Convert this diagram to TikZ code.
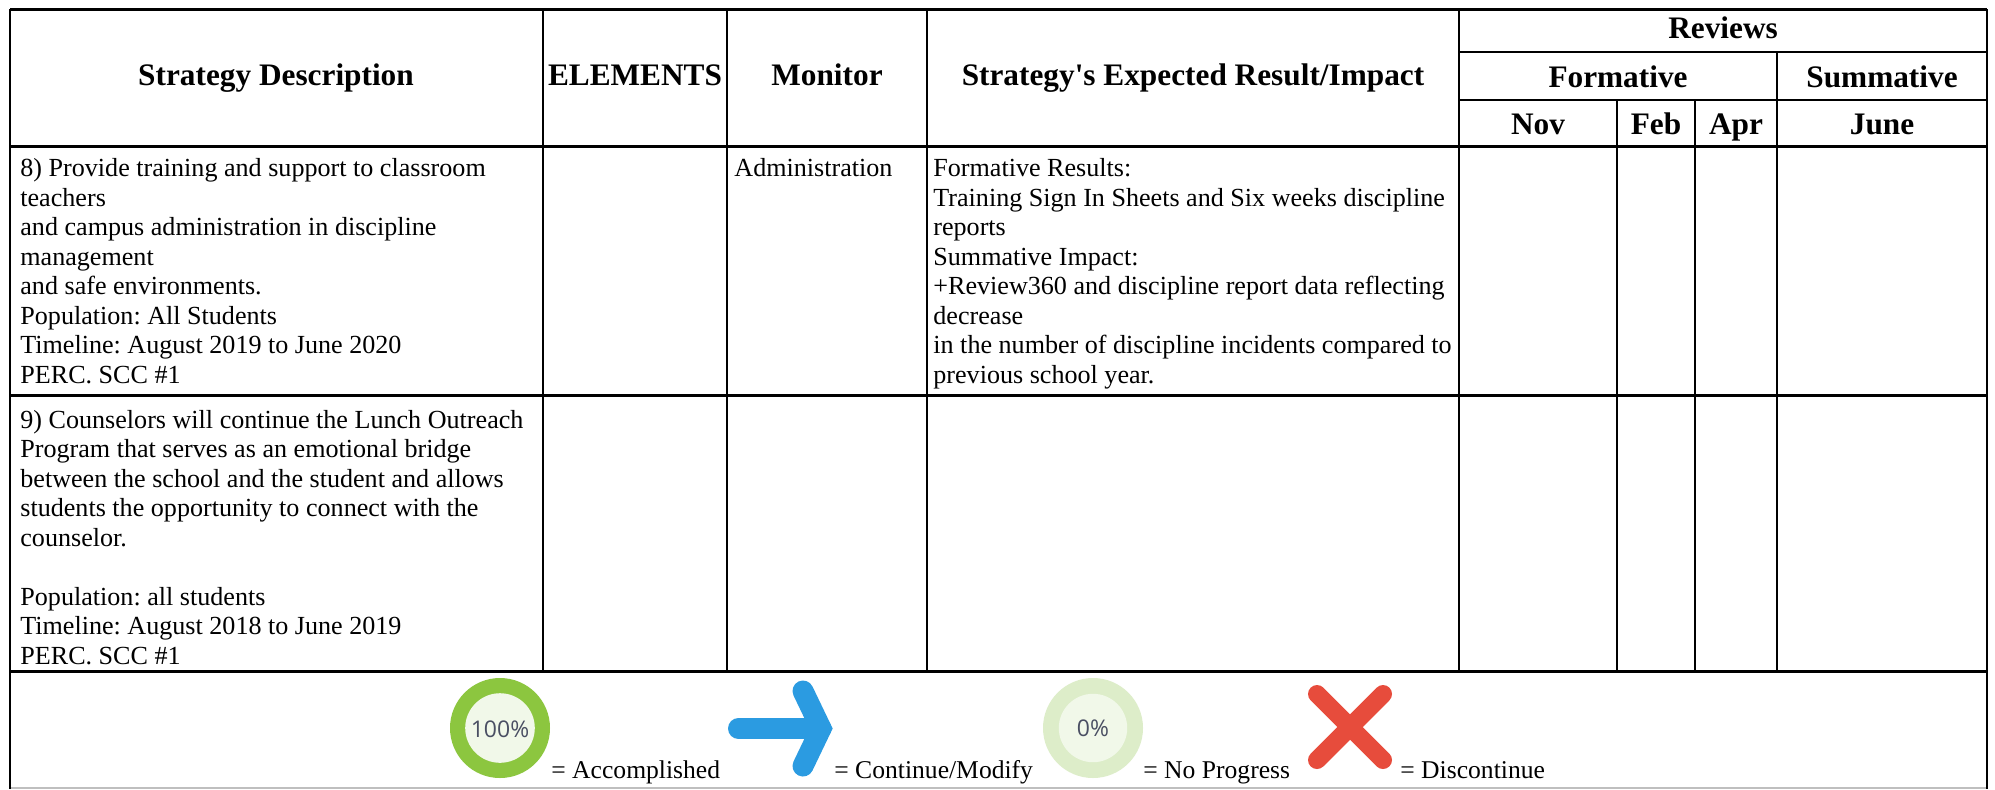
\documentclass[tikz,border=0pt]{standalone}
\usepackage{fontspec}
\setmainfont{Liberation Serif}
\newfontfamily\iconfont{Open Sans}
\definecolor{greenring}{RGB}{140,198,63}
\definecolor{paleinner}{RGB}{241,248,233}
\definecolor{palering}{RGB}{221,237,201}
\definecolor{arrowblue}{RGB}{43,155,225}
\definecolor{xred}{RGB}{231,76,60}
\definecolor{pcttext}{RGB}{74,79,99}
\frenchspacing
\newcommand{\celltext}[1]{\vtop{\hsize=300pt\parindent=0pt\leftskip=0pt\fontsize{13.05}{14.75}\selectfont\raggedright #1\par}}
\tikzset{
  hdr/.style={font=\fontsize{15.65}{18}\selectfont\bfseries, inner sep=0pt, anchor=base},
  body/.style={inner sep=0pt, anchor=base west},
  bodyline/.style={inner sep=0pt, anchor=base west, font=\fontsize{13.05}{14.75}\selectfont},
  legtext/.style={font=\fontsize{12.8}{15}\selectfont, inner sep=0pt, anchor=base west},
  gridline/.style={line width=1.1pt, black},
  rowline/.style={line width=1.5pt, black},
  pct/.style={font=\iconfont\fontsize{11.5}{13}\selectfont, text=pcttext, inner sep=0pt},
}
\begin{document}
\begin{tikzpicture}[x=0.5pt,y=-0.5pt]
\useasboundingbox (0,0) rectangle (1995,789);
\fill[white] (0,0) rectangle (1995,789);
% grid
\draw[rowline] (10,9) -- (1987,9);
\draw[gridline] (1459,52) -- (1987,52);
\draw[gridline] (1459,100) -- (1987,100);
\draw[rowline] (10,146) -- (1987,146);
\draw[rowline] (10,395) -- (1987,395);
\draw[rowline] (10,671) -- (1987,671);
\draw[line width=1pt, black!25] (10,787.5) -- (1987,787.5);
\draw[gridline] (10,9) -- (10,789);
\draw[gridline] (1987,9) -- (1987,789);
\foreach \cx in {543,727,927,1459} \draw[gridline] (\cx,9) -- (\cx,671);
\foreach \cx in {1617,1695} \draw[gridline] (\cx,100) -- (\cx,671);
\draw[gridline] (1777,52) -- (1777,671);
% headers
\node[hdr] (hdesc) at (276,85.5) {Strategy Description};
\node[hdr] (helem) at (635,85.5) {ELEMENTS};
\node[hdr] (hmon) at (827,85.5) {Monitor};
\node[hdr] (hres) at (1193,85.5) {Strategy\textquotesingle s Expected Result/Impact};
\node[hdr] (hrev) at (1723,38.5) {Reviews};
\node[hdr] (hform) at (1618,87) {Formative};
\node[hdr] (hsum) at (1882,87) {Summative};
\node[hdr] (hnov) at (1538,134) {Nov};
\node[hdr] (hfeb) at (1656,134) {Feb};
\node[hdr] (hapr) at (1736,134) {Apr};
\node[hdr] (hjun) at (1882,134) {June};
% row 8
\node[body] (r8desc) at (20,176.7) {\celltext{8) Provide training and support to classroom\\
teachers\\
and campus administration in discipline\\
management\\
and safe environments.\\
Population: All Students\\
Timeline: August 2019 to June 2020\\
PERC. SCC \#1}};
\node[bodyline] (r8mon) at (734,176.7) {Administration};
\node[body] (r8res) at (933,176.7) {\celltext{Formative Results:\\
Training Sign In Sheets and Six weeks discipline\\
reports\\
Summative Impact:\\
+Review360 and discipline report data reflecting\\
decrease\\
in the number of discipline incidents compared to\\
previous school year.}};
% row 9
\node[body] (r9desc) at (20,428) {\celltext{9) Counselors will continue the Lunch Outreach\\
Program that serves as an emotional bridge\\
between the school and the student and allows\\
students the opportunity to connect with the\\
counselor.\\
\mbox{}\\
Population: all students\\
Timeline: August 2018 to June 2019\\
PERC. SCC \#1}};
% legend icons
\fill[greenring] (500,728) circle (25pt);
\fill[paleinner] (500,728) circle (17.4pt);
\node[pct] (p100) at (500,729) {100\%};
\draw[arrowblue, line width=10.5pt, line cap=round] (738.5,728.5) -- (821,728.5);
\draw[arrowblue, line width=10.5pt, line cap=round, line join=miter] (803,691) -- (821,728.5) -- (803,766);
\fill[palering] (1093,728) circle (25pt);
\fill[paleinner] (1093,728) circle (17.1pt);
\node[pct] (p0) at (1093,728) {0\%};
\draw[xred, line width=9pt, line cap=round] (1317,694) -- (1383,760);
\draw[xred, line width=9pt, line cap=round] (1383,694) -- (1317,760);
% legend text
\node[legtext] (lacc) at (551,778) {= Accomplished};
\node[legtext] (lcon) at (834,778) {= Continue/Modify};
\node[legtext] (lno) at (1143,778) {= No Progress};
\node[legtext] (ldis) at (1400,778) {= Discontinue};
\end{tikzpicture}
\end{document}
